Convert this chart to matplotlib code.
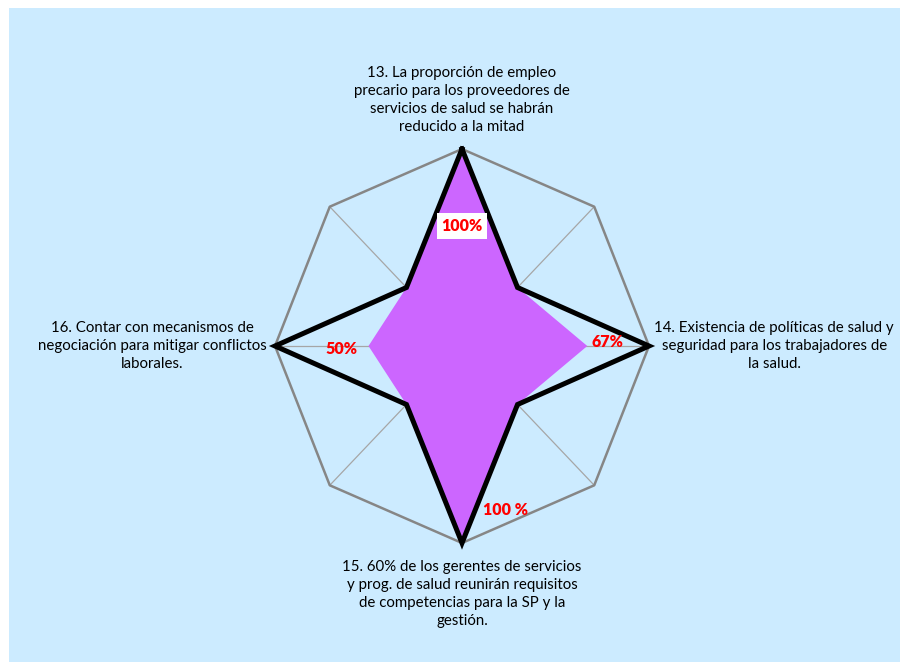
import numpy as np
import matplotlib
matplotlib.use('Agg')
import matplotlib.pyplot as plt
from matplotlib.patches import Rectangle

# datos del grafico radar (8 ejes, 4 con etiqueta)
categorias = ['13. La proporción de empleo\nprecario para los proveedores de\nservicios de salud se habrán\nreducido a la mitad',
              '',
              '14. Existencia de políticas de salud y\nseguridad para los trabajadores de\nla salud.',
              '',
              '15. 60% de los gerentes de servicios\ny prog. de salud reunirán requisitos\nde competencias para la SP y la\ngestión.',
              '',
              '16. Contar con mecanismos de\nnegociación para mitigar conflictos\nlaborales.',
              '']
meta = [1.0, 0.42, 1.0, 0.42, 1.0, 0.42, 1.0, 0.42]
logro = [1.0, 0.42, 0.67, 0.42, 1.0, 0.42, 0.5, 0.42]
etiquetas_logro = ['100%', '67%', '100 %', '50%']

plt.rcParams['font.family'] = ['Lato', 'DejaVu Sans']

n = len(categorias)
ang = np.arange(n) * 2 * np.pi / n


def xy(valores):
    v = np.array(list(valores) + [valores[0]])
    a = np.append(ang, ang[0])
    return v * np.sin(a), v * np.cos(a)


fig = plt.figure(figsize=(9, 6.62), dpi=100, facecolor='white')
fig.patches.append(Rectangle((9 / 900, 0), 1, 1 - 8 / 662, transform=fig.transFigure,
                             facecolor='#CCEBFF', edgecolor='none', zorder=-10))

ax = fig.add_axes([0, 0, 1, 1])
ax.set_facecolor('none')
rx, ry = 187, 197
ax.set_xlim(-462 / rx, (900 - 462) / rx)
ax.set_ylim(-(662 - 346) / ry, 346 / ry)
ax.axis('off')

# rejilla: radios y octogono exterior
for a in ang:
    ax.plot([0, np.sin(a)], [0, np.cos(a)], color='#A6A6A6', lw=0.9, zorder=1)
gx, gy = xy([1.0] * n)
ax.plot(gx, gy, color='#868686', lw=1.8, zorder=1)

# serie logro (relleno morado)
lx, ly = xy(logro)
ax.fill(lx, ly, color='#CC66FF', lw=0, zorder=2)

# serie meta (linea negra)
mx, my = xy(meta)
ax.plot(mx, my, color='black', lw=3.6, zorder=3, solid_joinstyle='miter')

# etiquetas de porcentaje
ax.text(0, 0.61, etiquetas_logro[0], color='red', fontsize=11.5, fontweight='heavy',
        ha='center', va='center', zorder=4,
        bbox=dict(facecolor='white', edgecolor='none', pad=3.5))
ax.text(0.78, 0.02, etiquetas_logro[1], color='red', fontsize=11.5, fontweight='heavy',
        ha='center', va='center', zorder=4)
ax.text(0.23, -0.83, etiquetas_logro[2], color='red', fontsize=11.5, fontweight='heavy',
        ha='center', va='center', zorder=4)
ax.text(-0.647, -0.015, etiquetas_logro[3], color='red', fontsize=11.5, fontweight='heavy',
        ha='center', va='center', zorder=4)

# etiquetas de categorias
pos = {0: (0, 1.25), 2: (1.67, 0.0), 4: (0, -1.26), 6: (-1.655, 0.0)}
for i, (px, py) in pos.items():
    ax.text(px, py, categorias[i], fontsize=10.8, ha='center', va='center',
            linespacing=1.35, color='black')

fig.savefig('out.png', dpi=100, facecolor='white')
